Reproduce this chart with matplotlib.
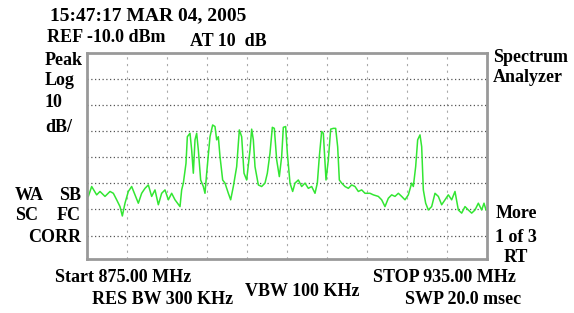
import numpy as np
import matplotlib
matplotlib.use("Agg")
import matplotlib.pyplot as plt


# ------------------------------------------------------------
# DATA — trace (MHz, dBm)
# ------------------------------------------------------------
freq_mhz = [
    875.20, 875.70, 876.45, 876.95, 877.70, 878.45, 878.95, 879.45, 879.95, 880.30,
    880.70, 881.20, 881.70, 882.20, 882.70, 883.20, 883.70, 884.20, 884.70, 885.20,
    885.70, 886.20, 886.70, 887.20, 887.70, 888.20, 888.95, 889.20, 889.45, 889.85,
    890.05, 890.45, 890.70, 890.95, 891.20, 891.45, 891.70, 892.05, 892.45, 892.70,
    892.95, 893.45, 893.85, 894.20, 894.45, 894.70, 894.95, 895.35, 895.70, 896.20,
    896.55, 896.95, 897.45, 897.85, 898.20, 898.55, 898.95, 899.45, 899.70, 899.95,
    900.20, 900.70, 901.20, 901.70, 902.05, 902.45, 902.80, 903.10, 903.45, 903.85,
    904.20, 904.45, 904.80, 905.05, 905.45, 905.85, 906.20, 906.70, 907.20, 907.70,
    908.20, 908.70, 909.20, 909.55, 909.85, 910.20, 910.45, 910.85, 911.20, 911.55,
    911.95, 912.30, 912.60, 912.85, 913.20, 913.70, 914.20, 914.70, 915.20, 915.70,
    916.20, 916.70, 917.45, 917.95, 918.70, 919.20, 919.70, 920.20, 920.70, 921.20,
    921.70, 922.20, 922.70, 923.20, 923.70, 923.95, 924.30, 924.60, 924.95, 925.20,
    925.45, 925.80, 926.20, 926.70, 927.20, 927.70, 928.20, 928.70, 929.20, 929.70,
    930.20, 930.70, 931.20, 931.70, 932.20, 932.70, 933.20, 933.70, 934.20, 934.55,
    934.85,
]
level_dbm = [
    -65.0, -61.2, -64.4, -63.1, -65.0, -63.1, -63.8, -66.3, -68.9, -72.5,
    -67.6, -63.1, -61.2, -64.4, -67.6, -63.8, -61.9, -60.6, -65.0, -62.5,
    -68.2, -63.8, -62.5, -66.3, -63.8, -66.3, -68.9, -62.5, -59.9, -52.3,
    -42.1, -40.8, -47.2, -56.1, -43.3, -40.8, -47.2, -58.7, -61.2, -63.8,
    -56.1, -42.1, -37.6, -38.2, -43.3, -42.1, -49.7, -58.7, -59.9, -63.8,
    -66.3, -61.2, -53.6, -39.5, -42.1, -56.1, -58.7, -47.2, -39.2, -43.3,
    -53.6, -60.6, -61.2, -59.9, -56.1, -48.4, -38.5, -38.9, -51.0, -57.4,
    -49.7, -38.5, -38.2, -48.4, -59.9, -63.1, -59.9, -58.7, -61.2, -59.9,
    -61.9, -61.2, -63.8, -59.9, -49.7, -40.1, -40.8, -58.7, -51.0, -39.2,
    -38.9, -38.9, -46.0, -58.7, -59.9, -61.2, -61.9, -60.6, -61.2, -63.1,
    -62.5, -63.8, -63.8, -64.4, -65.0, -66.3, -68.9, -65.7, -64.4, -65.0,
    -63.8, -65.0, -66.3, -64.4, -59.9, -61.2, -53.6, -43.3, -41.4, -45.9,
    -62.5, -67.6, -70.2, -68.9, -63.8, -65.0, -68.2, -66.3, -64.4, -66.3,
    -63.1, -70.2, -71.4, -68.9, -70.2, -71.4, -70.2, -67.6, -70.2, -67.6,
    -70.2,
]

start_mhz = 875.0
stop_mhz = 935.0
ref_dbm = -10.0
db_per_div = 10.0

header_lines = ["15:47:17 MAR 04, 2005", "REF -10.0 dBm", "AT 10  dB"]
left_labels = ["Peak", "Log", "10", "dB/"]
right_top = ["Spectrum", "Analyzer"]
right_bottom = ["More", "1 of 3", "RT"]
footer = ["Start 875.00 MHz", "RES BW 300 KHz", "VBW 100 KHz",
          "STOP 935.00 MHz", "SWP 20.0 msec"]


# ------------------------------------------------------------
# FIGURE
# ------------------------------------------------------------
W, H = 574, 313
fig = plt.figure(figsize=(W / 100, H / 100), dpi=100)
ax = fig.add_axes([87 / W, 1 - 259 / H, 400 / W, 206 / H])

ax.plot(freq_mhz, level_dbm, color="#33e633", linewidth=1.1)

ax.set_xlim(start_mhz, stop_mhz)
ax.set_ylim(ref_dbm - 7.9 * db_per_div, ref_dbm)
ax.set_xticks(np.linspace(start_mhz, stop_mhz, 11)[1:-1])
ax.set_yticks(np.arange(ref_dbm - db_per_div, ref_dbm - 8 * db_per_div, -db_per_div))
ax.tick_params(length=0, labelbottom=False, labelleft=False)
ax.grid(axis="y", color="#555555", linestyle=(0, (1, 2)), linewidth=0.9)
ax.grid(axis="x", color="#aaaaaa", linestyle=(0, (2, 4)), linewidth=0.8)
for sp in ax.spines.values():
    sp.set_color("#999999")
    sp.set_linewidth(2)


# ------------------------------------------------------------
# TEXT AROUND THE SCREEN
# ------------------------------------------------------------
font = dict(family="Liberation Serif", weight="bold", size=13, color="black")


def put(x, y, s, ha="left", size=13):
    fig.text(x / W, 1 - y / H, s, ha=ha, va="center",
             **{**font, "size": size})


put(50, 16, header_lines[0], size=14)
put(47, 37, header_lines[1])
put(190, 41, header_lines[2])

for s, y in zip(left_labels, [60, 81, 103, 127]):
    put(45, y, s)

put(493, 58, right_top[0])
put(493, 77, right_top[1])

put(15, 195, "WA")
put(81, 195, "SB", ha="right")
put(15, 216, "SC")
put(81, 216, "FC", ha="right")
put(81, 238, "CORR", ha="right")

put(516, 213, right_bottom[0], ha="center")
put(516, 237, right_bottom[1], ha="center")
put(516, 257, right_bottom[2], ha="center")

put(55, 278, footer[0])
put(92, 299, footer[1])
put(245, 292, footer[2])
put(373, 278, footer[3])
put(405, 299, footer[4])

plt.savefig("out.png", dpi=100)
